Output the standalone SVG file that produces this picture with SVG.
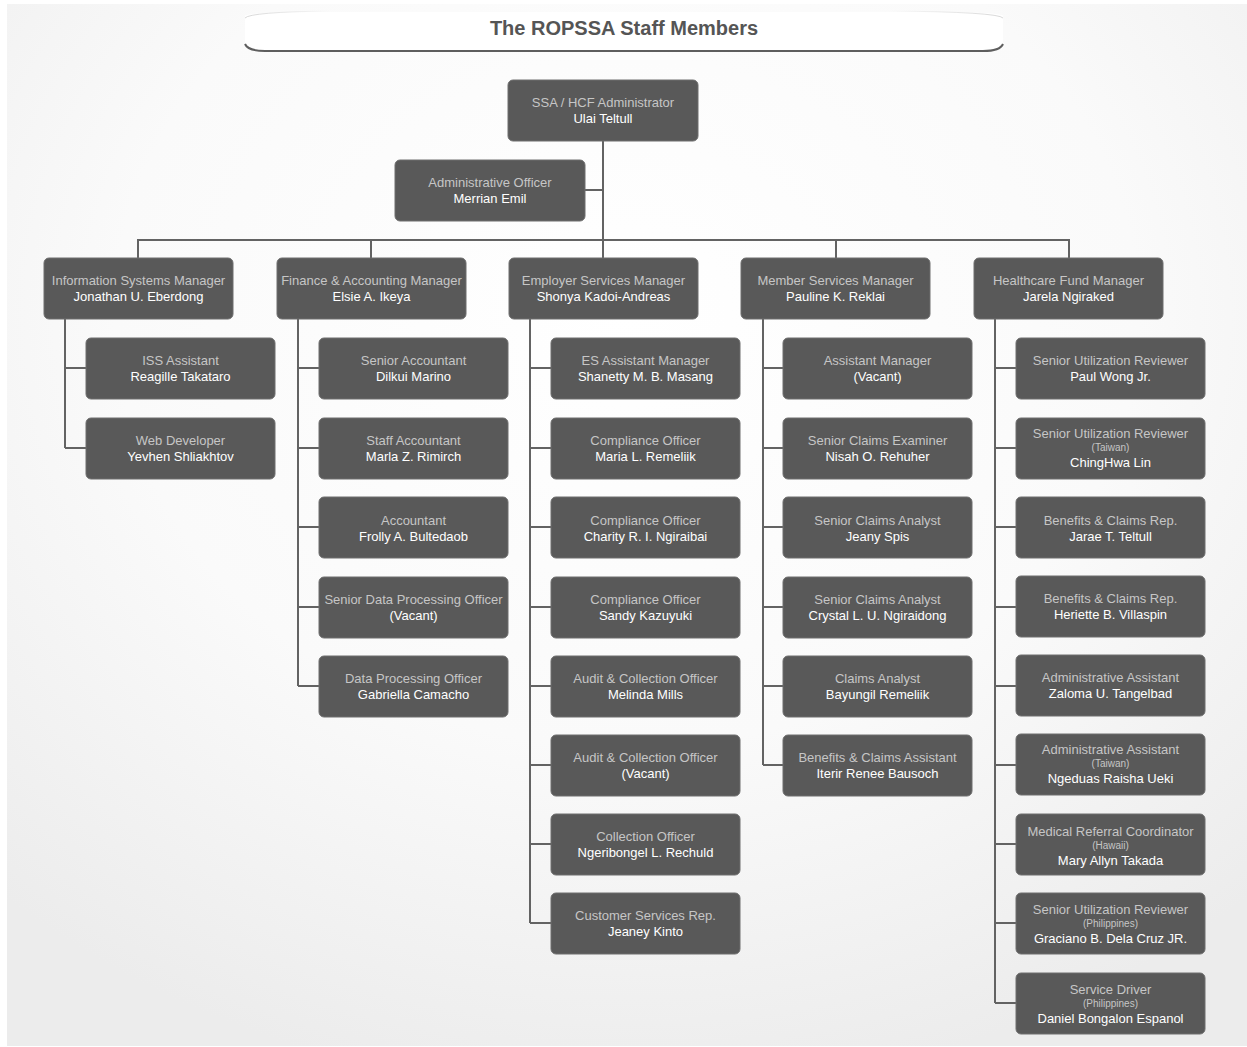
<svg xmlns="http://www.w3.org/2000/svg" width="1247" height="1047" viewBox="0 0 1247 1047">
<defs>
<radialGradient id="bg" cx="50%" cy="30%" r="75%">
<stop offset="0" stop-color="#ffffff"/>
<stop offset="0.55" stop-color="#fafafa"/>
<stop offset="1" stop-color="#ececec"/>
</radialGradient>
<linearGradient id="topL" x1="0" y1="0" x2="1" y2="0">
<stop offset="0" stop-color="#ccc" stop-opacity="0.8"/>
<stop offset="1" stop-color="#ccc" stop-opacity="0"/>
</linearGradient>
<linearGradient id="topR" x1="0" y1="0" x2="1" y2="0">
<stop offset="0" stop-color="#ccc" stop-opacity="0"/>
<stop offset="1" stop-color="#ccc" stop-opacity="0.8"/>
</linearGradient>
</defs>
<style>
.n rect{fill:#595959;stroke:#6e6e6e;stroke-width:1}
.n text{font-family:"Liberation Sans",Arial,sans-serif;font-size:13px;text-anchor:middle}
.n .r{fill:#c6c6c6}
.n .p{fill:#ffffff}
.n .s{font-size:10px;fill:#c6c6c6}
.c path{fill:none;stroke:#636363;stroke-width:2}
.t{font-family:"Liberation Sans",Arial,sans-serif;font-size:20px;font-weight:bold;fill:#555;text-anchor:middle}
</style>
<rect x="0" y="0" width="1247" height="1047" fill="#ffffff"/>
<rect x="7" y="4" width="1240" height="1042" fill="url(#bg)"/>
<g id="title">
<path d="M245,16 Q245,12 330,12 L920,12 Q1003,12 1003,16 L1003,44 Q1003,51 985,51 L263,51 Q245,51 245,44 Z" fill="#ffffff"/>
<path d="M245,18 Q250,12 330,11" fill="none" stroke="url(#topL)" stroke-width="1"/>
<path d="M890,11 Q998,12 1003,18" fill="none" stroke="url(#topR)" stroke-width="1"/>
<path d="M245,44 Q248,51 265,51 L983,51 Q1000,51 1003,44" fill="none" stroke="#5e5e5e" stroke-width="2"/>
<text class="t" x="624" y="35">The ROPSSA Staff Members</text>
</g>
<g id="connectors" class="c">
<path d="M603,140 V258"/>
<path d="M584,190 H603"/>
<path d="M138,258 V240 H1069 V258"/>
<path d="M371,240 V258"/>
<path d="M836,240 V258"/>
<path d="M65,318 V448 M65,368 H86 M65,448 H86"/>
<path d="M298,318 V686 M298,368 H319 M298,448 H319 M298,527 H319 M298,607 H319 M298,686 H319"/>
<path d="M530,318 V923 M530,368 H551 M530,448 H551 M530,527 H551 M530,607 H551 M530,686 H551 M530,765 H551 M530,844 H551 M530,923 H551"/>
<path d="M763,318 V765 M763,368 H783 M763,448 H783 M763,527 H783 M763,607 H783 M763,686 H783 M763,765 H783"/>
<path d="M995,318 V1003 M995,368 H1016 M995,448 H1016 M995,527 H1016 M995,607 H1016 M995,686 H1016 M995,765 H1016 M995,844 H1016 M995,923 H1016 M995,1003 H1016"/>
</g>
<g id="n-admin" class="n"><rect x="508" y="80" width="190" height="61" rx="5"/><text class="r" x="603" y="107">SSA / HCF Administrator</text><text class="p" x="603" y="123">Ulai Teltull</text></g>
<g id="n-adminofficer" class="n"><rect x="395" y="160" width="190" height="61" rx="5"/><text class="r" x="490" y="187">Administrative Officer</text><text class="p" x="490" y="203">Merrian Emil</text></g>
<g id="m-is" class="n"><rect x="44" y="258" width="189" height="61" rx="5"/><text class="r" x="138.5" y="285">Information Systems Manager</text><text class="p" x="138.5" y="301">Jonathan U. Eberdong</text></g>
<g id="m-fa" class="n"><rect x="277" y="258" width="189" height="61" rx="5"/><text class="r" x="371.5" y="285">Finance &amp; Accounting Manager</text><text class="p" x="371.5" y="301">Elsie A. Ikeya</text></g>
<g id="m-es" class="n"><rect x="509" y="258" width="189" height="61" rx="5"/><text class="r" x="603.5" y="285">Employer Services Manager</text><text class="p" x="603.5" y="301">Shonya Kadoi-Andreas</text></g>
<g id="m-ms" class="n"><rect x="741" y="258" width="189" height="61" rx="5"/><text class="r" x="835.5" y="285">Member Services Manager</text><text class="p" x="835.5" y="301">Pauline K. Reklai</text></g>
<g id="m-hf" class="n"><rect x="974" y="258" width="189" height="61" rx="5"/><text class="r" x="1068.5" y="285">Healthcare Fund Manager</text><text class="p" x="1068.5" y="301">Jarela Ngiraked</text></g>

<g id="is-1" class="n"><rect x="86" y="338" width="189" height="61" rx="5"/><text class="r" x="180.5" y="365">ISS Assistant</text><text class="p" x="180.5" y="381">Reagille Takataro</text></g>
<g id="is-2" class="n"><rect x="86" y="418" width="189" height="61" rx="5"/><text class="r" x="180.5" y="445">Web Developer</text><text class="p" x="180.5" y="461">Yevhen Shliakhtov</text></g>

<g id="fa-1" class="n"><rect x="319" y="338" width="189" height="61" rx="5"/><text class="r" x="413.5" y="365">Senior Accountant</text><text class="p" x="413.5" y="381">Dilkui Marino</text></g>
<g id="fa-2" class="n"><rect x="319" y="418" width="189" height="61" rx="5"/><text class="r" x="413.5" y="445">Staff Accountant</text><text class="p" x="413.5" y="461">Marla Z. Rimirch</text></g>
<g id="fa-3" class="n"><rect x="319" y="497" width="189" height="61" rx="5"/><text class="r" x="413.5" y="525">Accountant</text><text class="p" x="413.5" y="541">Frolly A. Bultedaob</text></g>
<g id="fa-4" class="n"><rect x="319" y="577" width="189" height="61" rx="5"/><text class="r" x="413.5" y="604">Senior Data Processing Officer</text><text class="p" x="413.5" y="620">(Vacant)</text></g>
<g id="fa-5" class="n"><rect x="319" y="656" width="189" height="61" rx="5"/><text class="r" x="413.5" y="683">Data Processing Officer</text><text class="p" x="413.5" y="699">Gabriella Camacho</text></g>

<g id="es-1" class="n"><rect x="551" y="338" width="189" height="61" rx="5"/><text class="r" x="645.5" y="365">ES Assistant Manager</text><text class="p" x="645.5" y="381">Shanetty M. B. Masang</text></g>
<g id="es-2" class="n"><rect x="551" y="418" width="189" height="61" rx="5"/><text class="r" x="645.5" y="445">Compliance Officer</text><text class="p" x="645.5" y="461">Maria L. Remeliik</text></g>
<g id="es-3" class="n"><rect x="551" y="497" width="189" height="61" rx="5"/><text class="r" x="645.5" y="525">Compliance Officer</text><text class="p" x="645.5" y="541">Charity R. I. Ngiraibai</text></g>
<g id="es-4" class="n"><rect x="551" y="577" width="189" height="61" rx="5"/><text class="r" x="645.5" y="604">Compliance Officer</text><text class="p" x="645.5" y="620">Sandy Kazuyuki</text></g>
<g id="es-5" class="n"><rect x="551" y="656" width="189" height="61" rx="5"/><text class="r" x="645.5" y="683">Audit &amp; Collection Officer</text><text class="p" x="645.5" y="699">Melinda Mills</text></g>
<g id="es-6" class="n"><rect x="551" y="735" width="189" height="61" rx="5"/><text class="r" x="645.5" y="762">Audit &amp; Collection Officer</text><text class="p" x="645.5" y="778">(Vacant)</text></g>
<g id="es-7" class="n"><rect x="551" y="814" width="189" height="61" rx="5"/><text class="r" x="645.5" y="841">Collection Officer</text><text class="p" x="645.5" y="857">Ngeribongel L. Rechuld</text></g>
<g id="es-8" class="n"><rect x="551" y="893" width="189" height="61" rx="5"/><text class="r" x="645.5" y="920">Customer Services Rep.</text><text class="p" x="645.5" y="936">Jeaney Kinto</text></g>

<g id="ms-1" class="n"><rect x="783" y="338" width="189" height="61" rx="5"/><text class="r" x="877.5" y="365">Assistant Manager</text><text class="p" x="877.5" y="381">(Vacant)</text></g>
<g id="ms-2" class="n"><rect x="783" y="418" width="189" height="61" rx="5"/><text class="r" x="877.5" y="445">Senior Claims Examiner</text><text class="p" x="877.5" y="461">Nisah O. Rehuher</text></g>
<g id="ms-3" class="n"><rect x="783" y="497" width="189" height="61" rx="5"/><text class="r" x="877.5" y="525">Senior Claims Analyst</text><text class="p" x="877.5" y="541">Jeany Spis</text></g>
<g id="ms-4" class="n"><rect x="783" y="577" width="189" height="61" rx="5"/><text class="r" x="877.5" y="604">Senior Claims Analyst</text><text class="p" x="877.5" y="620">Crystal L. U. Ngiraidong</text></g>
<g id="ms-5" class="n"><rect x="783" y="656" width="189" height="61" rx="5"/><text class="r" x="877.5" y="683">Claims Analyst</text><text class="p" x="877.5" y="699">Bayungil Remeliik</text></g>
<g id="ms-6" class="n"><rect x="783" y="735" width="189" height="61" rx="5"/><text class="r" x="877.5" y="762">Benefits &amp; Claims Assistant</text><text class="p" x="877.5" y="778">Iterir Renee Bausoch</text></g>

<g id="hf-1" class="n"><rect x="1016" y="338" width="189" height="61" rx="5"/><text class="r" x="1110.5" y="365">Senior Utilization Reviewer</text><text class="p" x="1110.5" y="381">Paul Wong Jr.</text></g>
<g id="hf-2" class="n"><rect x="1016" y="418" width="189" height="61" rx="5"/><text class="r" x="1110.5" y="438">Senior Utilization Reviewer</text><text class="s" x="1110.5" y="451">(Taiwan)</text><text class="p" x="1110.5" y="467">ChingHwa Lin</text></g>
<g id="hf-3" class="n"><rect x="1016" y="497" width="189" height="61" rx="5"/><text class="r" x="1110.5" y="525">Benefits &amp; Claims Rep.</text><text class="p" x="1110.5" y="541">Jarae T. Teltull</text></g>
<g id="hf-4" class="n"><rect x="1016" y="576" width="189" height="61" rx="5"/><text class="r" x="1110.5" y="603">Benefits &amp; Claims Rep.</text><text class="p" x="1110.5" y="619">Heriette B. Villaspin</text></g>
<g id="hf-5" class="n"><rect x="1016" y="655" width="189" height="61" rx="5"/><text class="r" x="1110.5" y="682">Administrative Assistant</text><text class="p" x="1110.5" y="698">Zaloma U. Tangelbad</text></g>
<g id="hf-6" class="n"><rect x="1016" y="734" width="189" height="61" rx="5"/><text class="r" x="1110.5" y="754">Administrative Assistant</text><text class="s" x="1110.5" y="767">(Taiwan)</text><text class="p" x="1110.5" y="783">Ngeduas Raisha Ueki</text></g>
<g id="hf-7" class="n"><rect x="1016" y="814" width="189" height="61" rx="5"/><text class="r" x="1110.5" y="836">Medical Referral Coordinator</text><text class="s" x="1110.5" y="849">(Hawaii)</text><text class="p" x="1110.5" y="865">Mary Allyn Takada</text></g>
<g id="hf-8" class="n"><rect x="1016" y="893" width="189" height="61" rx="5"/><text class="r" x="1110.5" y="914">Senior Utilization Reviewer</text><text class="s" x="1110.5" y="927">(Philippines)</text><text class="p" x="1110.5" y="943">Graciano B. Dela Cruz JR.</text></g>
<g id="hf-9" class="n"><rect x="1016" y="973" width="189" height="61" rx="5"/><text class="r" x="1110.5" y="994">Service Driver</text><text class="s" x="1110.5" y="1007">(Philippines)</text><text class="p" x="1110.5" y="1023">Daniel Bongalon Espanol</text></g>
</svg>
